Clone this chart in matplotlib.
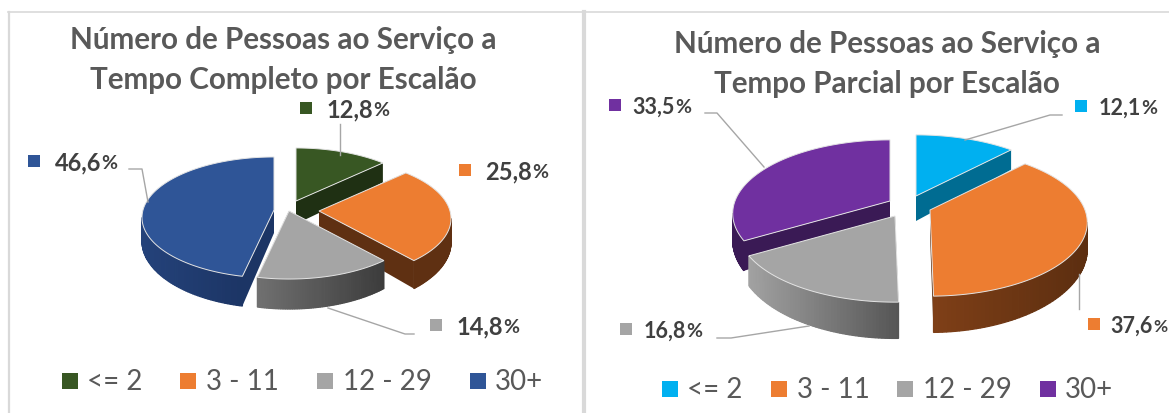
import numpy as np
import matplotlib
matplotlib.use('Agg')
import matplotlib.pyplot as plt

plt.rcParams['font.family'] = ['Lato', 'DejaVu Sans']

categories = ['<= 2', '3 - 11', '12 - 29', '30+']
values_full = [12.8, 25.8, 14.8, 46.6]
values_part = [12.1, 37.6, 16.8, 33.5]

title_full = 'Número de Pessoas ao Serviço a\nTempo Completo por Escalão'
title_part = 'Número de Pessoas ao Serviço a\nTempo Parcial por Escalão'

colors_full = ['#385723', '#ED7D31', '#A5A5A5', '#2F5597']
colors_part = ['#00B0F0', '#ED7D31', '#A5A5A5', '#7030A0']
# wall shading, left end to right end on screen
walls_full = [('#1f3013', '#1f3013'), ('#5f3012', '#5f3012'), ('#707070', '#3c3c3c'), ('#24427a', '#1c3565')]
walls_part = [('#006c92', '#006c92'), ('#7e3f17', '#5c2e10'), ('#a2a2a2', '#555555'), ('#3a1a55', '#3a1a55')]

text_col = '#595959'
label_col = '#404040'


def project(theta, apex, rx, ry, k, drop=0.0):
    u, v = np.sin(theta), np.cos(theta)
    s = 1.0 / (1.0 + k * v)
    return apex[0] + rx * u * s, apex[1] - ry * v * s + drop * s ** 2


def lerp_color(c1, c2, t):
    a = np.array(matplotlib.colors.to_rgb(c1))
    b = np.array(matplotlib.colors.to_rgb(c2))
    return a + (b - a) * t


def draw_pie(ax, values, colors, walls, apexes, order, rx, ry, k, depth):
    edges = np.radians(np.concatenate([[0], np.cumsum(values)]) * 3.6)
    lim = np.arccos(-k)
    for z, i in enumerate(order):
        t0, t1 = edges[i], edges[i + 1]
        apex = apexes[i]
        # cut faces
        for t in (t0, t1):
            x, y = project(t, apex, rx, ry, k)
            xb, yb = project(t, apex, rx, ry, k, depth)
            ax.fill([apex[0], x, xb, apex[0]], [apex[1], y, yb, apex[1] + depth],
                    color=walls[i][1], lw=0, zorder=2 + z)
        # outer wall, drawn as thin strips for the shading
        a = max(t0, lim)
        b = min(t1, 2 * np.pi - lim)
        if b > a:
            ts = np.linspace(a, b, 60)
            xs, ys = project(ts, apex, rx, ry, k)
            xd, yd = project(ts, apex, rx, ry, k, depth)
            x0, x1 = xs.min(), xs.max()
            for j in range(len(ts) - 1):
                f = (0.5 * (xs[j] + xs[j + 1]) - x0) / (x1 - x0)
                c = lerp_color(walls[i][0], walls[i][1], f)
                ax.fill([xs[j], xs[j + 1], xd[j + 1], xd[j]], [ys[j], ys[j + 1], yd[j + 1], yd[j]],
                        color=c, lw=0.9, zorder=2 + z)
        # top
        ts = np.linspace(t0, t1, 120)
        xs, ys = project(ts, apex, rx, ry, k)
        ax.fill(np.r_[apex[0], xs], np.r_[apex[1], ys], facecolor=colors[i],
                edgecolor='#e4e4e4', lw=0.7, zorder=2.5 + z)


def draw_label(ax, x, y, split, value, color, size, pct_size):
    ax.scatter([x], [y], marker='s', s=80, color=color, lw=0, zorder=8)
    txt = f'{value:.1f}'.replace('.', ',')
    ax.text(split, y + 1, txt, ha='right', va='center', fontsize=size, fontweight='bold', color=label_col, zorder=8)
    ax.text(split, y + 2, '%', ha='left', va='center', fontsize=pct_size, fontweight='bold', color=label_col, zorder=8)


def draw_legend(ax, xs, text_xs, y, colors):
    for x, tx, name, c in zip(xs, text_xs, categories, colors):
        ax.scatter([x], [y], marker='s', s=125, color=c, lw=0, zorder=8)
        ax.text(tx, y, name, ha='left', va='center', fontsize=20, color=text_col, zorder=8)


fig = plt.figure(figsize=(11.69, 4.14), dpi=100)
ax = fig.add_axes([0, 0, 1, 1])
ax.set_xlim(0, 1169)
ax.set_ylim(414, 0)
ax.axis('off')

# panel borders
ax.plot([8, 1169], [12.5, 12.5], color='#d9d9d9', lw=1.2, zorder=1)
ax.plot([8.5, 8.5], [12.5, 414], color='#d9d9d9', lw=1.6, zorder=1)
ax.plot([583.5, 583.5], [12.5, 414], color='#d9d9d9', lw=3, zorder=1)

# left chart
ax.text(283.5, 60, title_full, ha='center', va='center', fontsize=21.3, fontweight='bold',
        color=text_col, linespacing=1.5)
draw_pie(ax, values_full, colors_full, walls_full,
         [(296, 202), (319, 212), (289, 212), (274, 211)], [0, 1, 3, 2],
         131, 59.6, 0.124, 23)
for pts in ([(340, 125), (340, 156)], [(328, 309), (405, 335), (414, 335)], [(129, 170), (142, 170), (148, 203)]):
    ax.plot(*zip(*pts), color='#a6a6a6', lw=1.0, zorder=7)
draw_label(ax, 306, 109, 373, values_full[0], colors_full[0], 17, 14)
draw_label(ax, 465, 171, 532, values_full[1], colors_full[1], 17, 14)
draw_label(ax, 436, 326, 503, values_full[2], colors_full[2], 17, 14)
draw_label(ax, 34, 162, 101, values_full[3], colors_full[3], 17, 14)
draw_legend(ax, [70, 188, 325, 478], [87, 206, 343, 495], 382, colors_full)

# right chart
ax.text(887, 64, title_part, ha='center', va='center', fontsize=21.3, fontweight='bold',
        color=text_col, linespacing=1.5)
draw_pie(ax, values_part, colors_part, walls_part,
         [(916, 197), (930, 211), (895, 217), (890, 202)], [0, 3, 1, 2],
         155, 71.5, 0.17, 25)
for pts in ([(965, 141), (1050, 116), (1062, 116)], [(705, 114), (717, 114), (764, 168)],
            [(717, 339), (731, 339), (809, 327)], [(1079, 275), (1079, 310)]):
    ax.plot(*zip(*pts), color='#a6a6a6', lw=1.0, zorder=7)
draw_label(ax, 1081, 107, 1141, values_part[0], colors_part[0], 15.5, 14)
draw_label(ax, 1094, 325, 1153, values_part[1], colors_part[1], 15.5, 12.5)
draw_label(ax, 626, 330, 686, values_part[2], colors_part[2], 15.5, 14)
draw_label(ax, 615, 106, 675, values_part[3], colors_part[3], 15.5, 14)
draw_legend(ax, [670, 779, 905, 1048], [687, 797, 923, 1065], 390, colors_part)

fig.savefig('out.png', dpi=100)
